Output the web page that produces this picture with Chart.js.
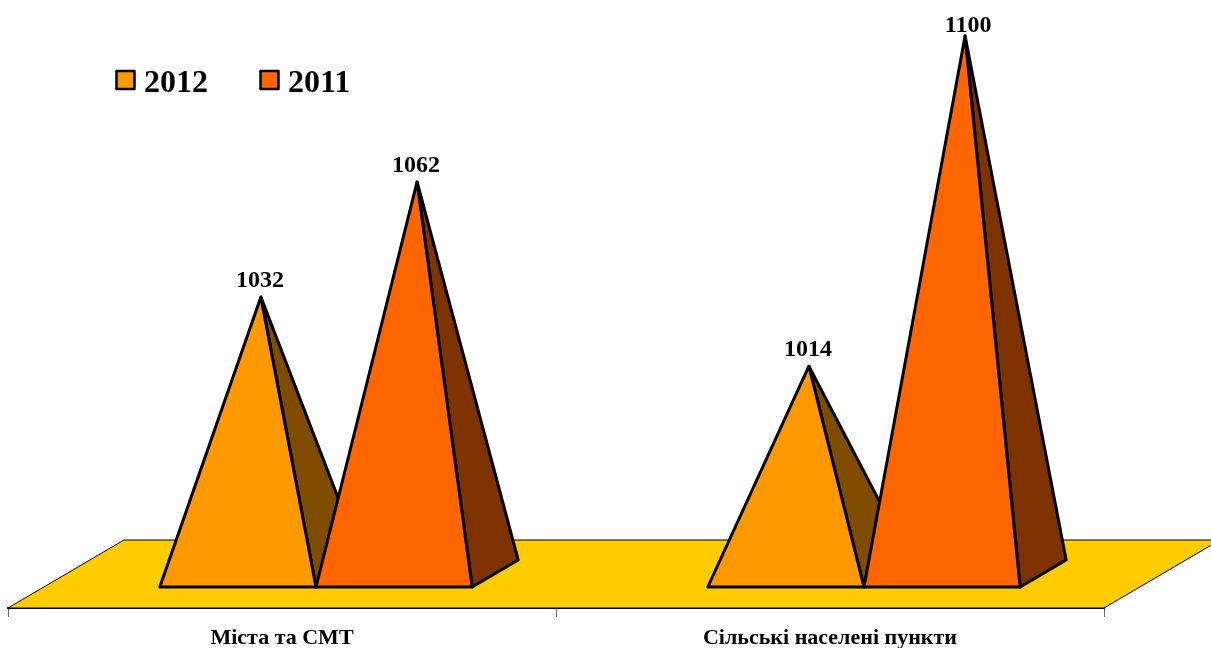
<!DOCTYPE html>
<html>
<head>
<meta charset="utf-8">
<script src="https://cdn.jsdelivr.net/npm/chart.js@4"></script>
<style>
  body { margin: 0; background: #fff; }
  canvas { display: block; }
</style>
</head>
<body>
<canvas id="chart" width="1211" height="648"></canvas>
<script>
var categories = ['Міста та СМТ', 'Сільські населені пункти'];
var values2012 = [1032, 1014];
var values2011 = [1062, 1100];

var serif = '"Liberation Serif", "Times New Roman", serif';

// axis doesn't start at zero in the original
var axisMin = 956.5;
var axisMax = 1110;

// fake 3d: how far things sit back on the floor
var standDx = 34, standDy = -21;   // front of the pyramids from the axis line
var depthDx = 46, depthDy = -27;   // depth of one pyramid
var floorDx = 116, floorDy = -68;  // depth of the floor

function drawFloor(ctx, area) {
  ctx.beginPath();
  ctx.moveTo(area.left, area.bottom);
  ctx.lineTo(area.right, area.bottom);
  ctx.lineTo(area.right + floorDx, area.bottom + floorDy);
  ctx.lineTo(area.left + floorDx, area.bottom + floorDy);
  ctx.closePath();
  ctx.fillStyle = '#FFCC00';
  ctx.fill();
  ctx.strokeStyle = '#000';
  ctx.lineWidth = 1;
  ctx.stroke();
}

function face(ctx, pts, color) {
  ctx.beginPath();
  ctx.moveTo(pts[0][0], pts[0][1]);
  for (var i = 1; i < pts.length; i++) {
    ctx.lineTo(pts[i][0], pts[i][1]);
  }
  ctx.closePath();
  ctx.fillStyle = color;
  ctx.fill();
  ctx.stroke();
}

function drawPyramid(ctx, bar, color, sideColor) {
  var left = bar.x - bar.width / 2 + standDx;
  var right = bar.x + bar.width / 2 + standDx;
  var bottom = bar.base + standDy;
  var apexX = bar.x + standDx + depthDx / 2;
  var apexY = bar.y + standDy;

  ctx.lineWidth = 3;
  ctx.lineJoin = 'round';
  ctx.strokeStyle = '#000';
  face(ctx, [[apexX, apexY], [right, bottom], [right + depthDx, bottom + depthDy]], sideColor);
  face(ctx, [[apexX, apexY], [left, bottom], [right, bottom]], color);

  return [apexX, apexY];
}

function drawValue(ctx, apex, value) {
  var y = apex[1] - 10;
  var x = apex[0] - 1;
  // top label doesn't fit above the tip, it gets pushed down next to it
  if (y < 32) {
    y = 32;
    x += 4;
  }
  ctx.font = 'bold 24px ' + serif;
  ctx.fillStyle = '#000';
  ctx.textAlign = 'center';
  ctx.textBaseline = 'alphabetic';
  ctx.fillText(value, x, y);
}

function drawLegend(chart) {
  var ctx = chart.ctx;
  chart.data.datasets.forEach(function (ds, i) {
    var x = 116.5 + i * 144;
    ctx.fillStyle = ds.backgroundColor;
    ctx.strokeStyle = '#000';
    ctx.lineWidth = 2.5;
    ctx.fillRect(x, 71, 18, 18);
    ctx.strokeRect(x, 71, 18, 18);
    ctx.font = 'bold 32px ' + serif;
    ctx.fillStyle = '#000';
    ctx.textAlign = 'left';
    ctx.textBaseline = 'alphabetic';
    ctx.fillText(ds.label, x + 27.5, 92);
  });
}

var pyramidPlugin = {
  id: 'pyramids',
  beforeDatasetsDraw: function (chart) {
    var ctx = chart.ctx;
    ctx.save();
    drawFloor(ctx, chart.chartArea);

    var labels = [];
    chart.data.datasets.forEach(function (ds, i) {
      chart.getDatasetMeta(i).data.forEach(function (bar, j) {
        var apex = drawPyramid(ctx, bar, ds.backgroundColor, ds.sideColor);
        labels.push([apex, ds.data[j]]);
      });
    });
    labels.forEach(function (l) {
      drawValue(ctx, l[0], l[1]);
    });

    drawLegend(chart);
    ctx.restore();
    return false; // no normal bars
  }
};

new Chart(document.getElementById('chart'), {
  type: 'bar',
  plugins: [pyramidPlugin],
  data: {
    labels: categories,
    datasets: [
      { label: '2012', data: values2012, backgroundColor: '#FF9900', sideColor: '#7F4C00' },
      { label: '2011', data: values2011, backgroundColor: '#FF6600', sideColor: '#7F3300' }
    ]
  },
  options: {
    responsive: false,
    animation: false,
    datasets: {
      bar: { categoryPercentage: 0.57, barPercentage: 1, base: axisMin }
    },
    layout: { padding: { left: 8, right: 107, top: 18.6, bottom: 0 } },
    plugins: {
      legend: { display: false },
      tooltip: { enabled: false }
    },
    scales: {
      x: {
        afterFit: function (axis) {
          axis.height = 40;
        },
        border: { color: '#000', width: 2 },
        grid: { drawOnChartArea: false, tickLength: 9, color: '#666' },
        ticks: {
          autoSkip: false,
          maxRotation: 0,
          padding: 8,
          color: '#000',
          font: { family: serif, size: 22, weight: 'bold' }
        }
      },
      y: {
        display: false,
        min: axisMin,
        max: axisMax
      }
    }
  }
});
</script>
</body>
</html>
